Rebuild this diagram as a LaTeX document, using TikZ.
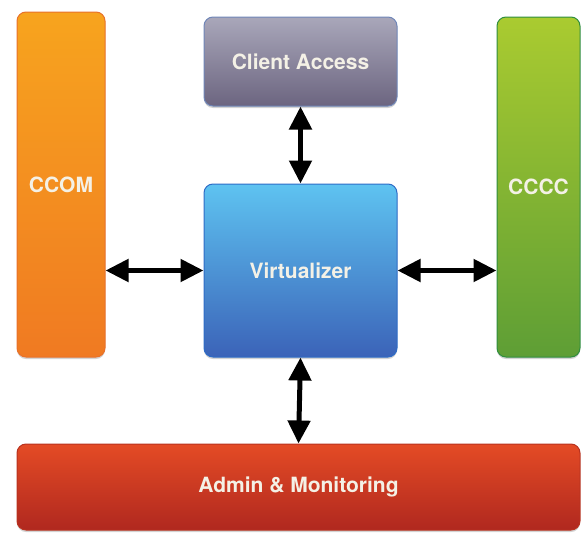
\documentclass[tikz,border=0pt]{standalone}
\usepackage{fontspec}
\setmainfont{TeX Gyre Heros}
\usepackage{xcolor}
\usetikzlibrary{arrows.meta, shadows, positioning}

\definecolor{ccomtop}{HTML}{F7A41E}
\definecolor{ccombot}{HTML}{F07A22}
\definecolor{ccomline}{HTML}{E8712A}
\definecolor{clienttop}{HTML}{A9A7BA}
\definecolor{clientbot}{HTML}{6C6580}
\definecolor{clientline}{HTML}{6F86B8}
\definecolor{virttop}{HTML}{5EC3F1}
\definecolor{virtbot}{HTML}{3B63B8}
\definecolor{virtline}{HTML}{2E6CC6}
\definecolor{cccctop}{HTML}{AACB30}
\definecolor{ccccbot}{HTML}{5E9E35}
\definecolor{ccccline}{HTML}{2F8E3E}
\definecolor{admintop}{HTML}{E44B25}
\definecolor{adminbot}{HTML}{B0281F}
\definecolor{adminline}{HTML}{B8321F}
\definecolor{labeltext}{HTML}{F4F1E6}

\begin{document}
\begin{tikzpicture}[x=1pt, y=-1pt,
		block/.style={rounded corners=9pt, line width=1pt, text=labeltext,
			font=\fontsize{21}{24}\selectfont\bfseries, inner sep=0pt,
			drop shadow={shadow xshift=0pt, shadow yshift=-2pt, opacity=0.35}},
		link/.style={{Triangle[length=23pt, width=22pt]}-{Triangle[length=23pt, width=22pt]}, line width=5pt}]
	\useasboundingbox (0,0) rectangle (581,533);

	% blocos
	\node [block, draw=ccomline, top color=ccomtop, bottom color=ccombot,
		minimum width=88pt, minimum height=345pt] (ccom) at (61,184.5) {CCOM};
	\node [block, draw=clientline, top color=clienttop, bottom color=clientbot,
		minimum width=193pt, minimum height=89pt] (client) at (300.5,61.5) {Client Access};
	\node [block, draw=virtline, top color=virttop, bottom color=virtbot,
		minimum width=193pt, minimum height=173pt] (virt) at (300.5,270.5) {Virtualizer};
	\node [block, draw=ccccline, top color=cccctop, bottom color=ccccbot,
		minimum width=83pt, minimum height=340pt] (cccc) at (538.5,187) {CCCC};
	\node [block, draw=adminline, top color=admintop, bottom color=adminbot,
		minimum width=563pt, minimum height=86pt] (admin) at (298.5,487) {Admin \& Monitoring};

	% ligações
	\draw [link] (virt.west) -- (virt.west -| ccom.east);
	\draw [link] (virt.east) -- (virt.east -| cccc.west);
	\draw [link] (virt.north) -- (client.south);
	\draw [link] (virt.south) -- (admin.north);
\end{tikzpicture}
\end{document}
